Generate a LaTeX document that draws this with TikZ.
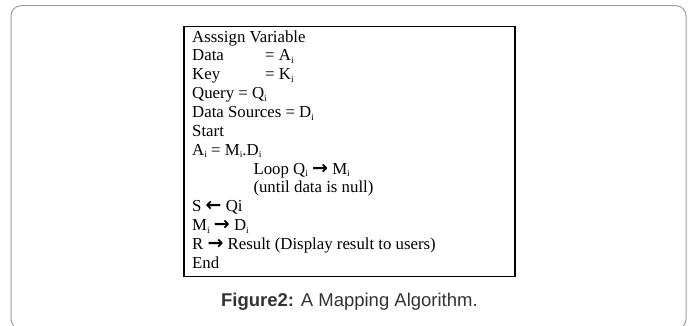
\documentclass[tikz,border=0pt]{standalone}
\usepackage{fontspec}
\setmainfont{Liberation Serif}
\newfontfamily\capfont{Liberation Sans}
\newfontfamily\arrowfont{DejaVu Sans}
\newcommand\subi{\raisebox{-0.35ex}{\fontsize{9.5}{9.5}\selectfont i}}
\newcommand\rarr{{\arrowfont\bfseries\fontsize{19}{19}\selectfont →}}
\newcommand\larr{{\arrowfont\bfseries\fontsize{19}{19}\selectfont ←}}
\definecolor{framegray}{HTML}{A0A0A0}
\definecolor{captext}{HTML}{333333}
\tikzset{
  algline/.style={anchor=base west, inner sep=0pt, font=\fontsize{16.8}{18.86}\selectfont},
  capline/.style={anchor=base, inner sep=0pt, text=captext, font=\capfont\fontsize{18.5}{20}\selectfont},
}
\begin{document}
\begin{tikzpicture}[x=1pt,y=-1pt]
\useasboundingbox (0,0) rectangle (693,325);
\draw[framegray, line width=1pt, rounded corners=10pt] (11,5.7) rectangle (686,329);
\draw[black, line width=1.3pt] (184,26.7) rectangle (515,276.7);
\node[algline] (l1) at (192,42) {Asssign Variable};
\node[algline] (l2) at (192,60.86) {\makebox[73pt][l]{Data}= A\subi};
\node[algline] (l3) at (192,79.72) {\makebox[73pt][l]{Key}= K\subi};
\node[algline] (l4) at (192,98.58) {Query = Q\subi};
\node[algline] (l5) at (192,117.44) {Data Sources = D\subi};
\node[algline] (l6) at (192,136.3) {Start};
\node[algline] (l7) at (192,155.16) {A\subi\ = M\subi.D\subi};
\node[algline] (l8) at (253.3,174.02) {Loop Q\subi\ \rarr\ M\subi};
\node[algline] (l9) at (253.3,192.88) {(until data is null)};
\node[algline] (l10) at (192,211.74) {S \larr\ Qi};
\node[algline] (l11) at (192,230.6) {M\subi\ \rarr\ D\subi};
\node[algline] (l12) at (192,249.46) {R \rarr\ Result (Display result to users)};
\node[algline] (l13) at (192,268.32) {End};
\node[capline] (cap) at (349.4,306) {\textbf{Figure2:} A Mapping Algorithm.};
\end{tikzpicture}
\end{document}
